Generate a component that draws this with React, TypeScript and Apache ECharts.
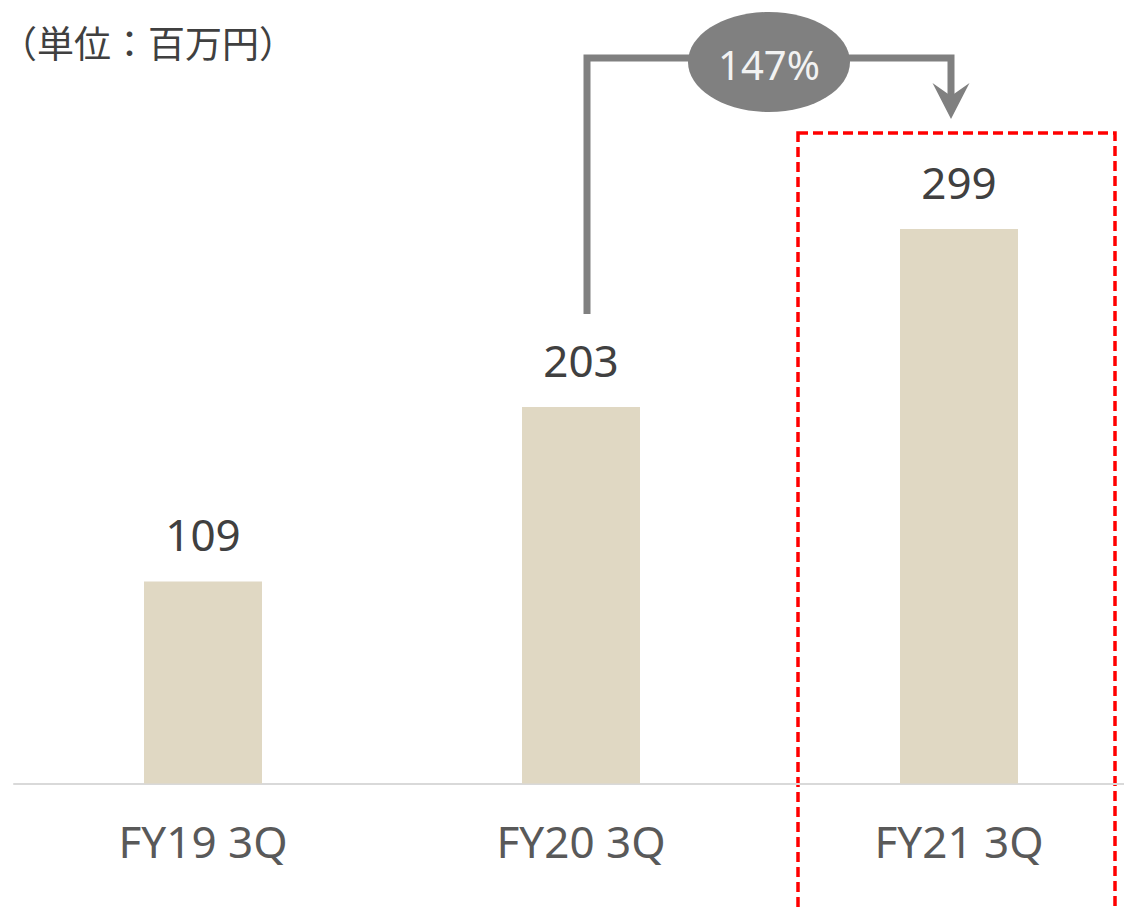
import React, { useEffect, useRef } from "react";
import * as echarts from "echarts";

const categories = ["FY19 3Q", "FY20 3Q", "FY21 3Q"];
const values = [109, 203, 299];
const unitLabel = "（単位：百万円）";
const growthLabel = "147%";

export default function App() {
  const ref = useRef<HTMLDivElement>(null);
  useEffect(() => {
    const chart = echarts.init(ref.current!, null, { renderer: "svg" });
    chart.setOption({
      animation: false,
      grid: { left: 14, top: 134.5, width: 1134, height: 649 },
      xAxis: {
        type: "category",
        data: categories,
        axisLine: { lineStyle: { color: "#d9d9d9", width: 2 } },
        axisTick: { show: false },
        axisLabel: { fontSize: 44, color: "#595959", fontFamily: "Noto Sans", margin: 35 },
      },
      yAxis: { type: "value", min: 0, max: 350, show: false, splitLine: { show: false } },
      series: [
        {
          type: "bar",
          data: values,
          barWidth: 118,
          itemStyle: { color: "#e0d8c3" },
          label: {
            show: true,
            position: "top",
            distance: 25,
            fontSize: 44,
            color: "#404040",
            fontFamily: "Noto Sans",
          },
        },
      ],
    });

    const xB = chart.convertToPixel({ xAxisIndex: 0 }, 1) as number;
    const xC = chart.convertToPixel({ xAxisIndex: 0 }, 2) as number;
    const yB = chart.convertToPixel({ yAxisIndex: 0 }, values[1]) as number;
    const lx = xB + 6;
    const rx = xC - 8;
    const hy = 58;
    const cx = (lx + rx) / 2;

    chart.setOption({
      graphic: [
        {
          type: "text",
          x: 0,
          y: 42,
          style: {
            text: unitLabel,
            fontSize: 37,
            fontFamily: "Noto Sans CJK JP",
            fill: "#404040",
            align: "left",
            verticalAlign: "middle",
          },
        },
        {
          type: "rect",
          shape: { x: xC - 161, y: 133, width: 317, height: 820 },
          style: { fill: "none", stroke: "#ff0000", lineWidth: 3.5, lineDash: [10, 5] },
        },
        {
          type: "polyline",
          shape: { points: [[lx, yB - 93], [lx, hy], [rx, hy], [rx, 100]] },
          style: { fill: "none", stroke: "#808080", lineWidth: 7 },
        },
        {
          type: "polygon",
          shape: { points: [[rx - 18.5, 83], [rx, 119], [rx + 18.5, 83], [rx, 96]] },
          style: { fill: "#808080" },
        },
        {
          type: "ellipse",
          shape: { cx, cy: 62, rx: 81, ry: 50 },
          style: { fill: "#808080" },
        },
        {
          type: "text",
          x: cx,
          y: 64,
          style: {
            text: growthLabel,
            fontSize: 40,
            fontFamily: "Noto Sans",
            fill: "#f2f2f2",
            align: "center",
            verticalAlign: "middle",
          },
        },
      ],
    });

    return () => chart.dispose();
  }, []);
  return (
    <div style={{ position: "absolute", left: 0, top: 0, width: 1124, height: 907, overflow: "hidden", background: "#fff" }}>
      <div ref={ref} style={{ width: 1148, height: 907 }} />
    </div>
  );
}
